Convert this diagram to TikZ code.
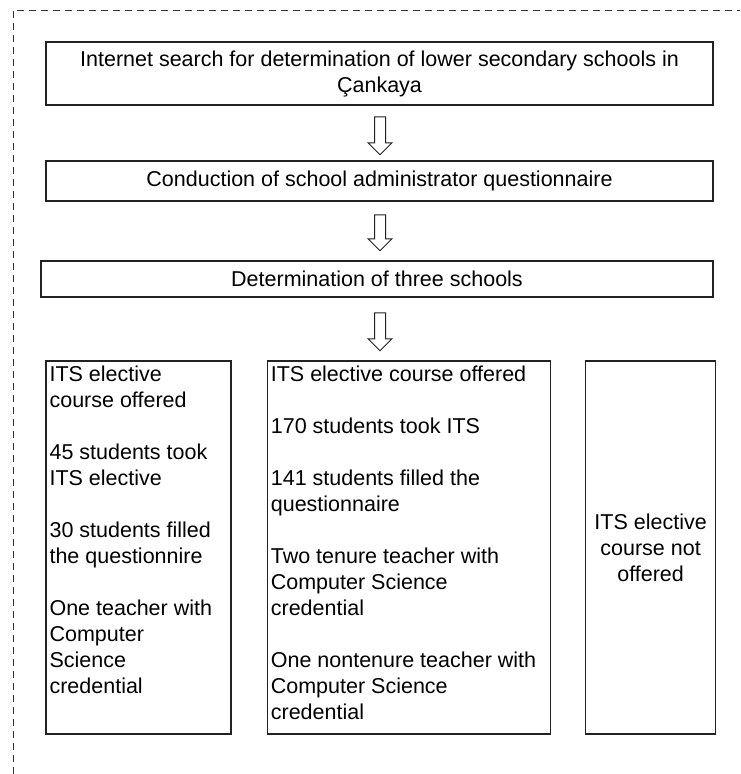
\documentclass[tikz,border=0pt]{standalone}
\usepackage{fontspec}
\setmainfont{Liberation Sans}
\usetikzlibrary{shapes.arrows, positioning}
\definecolor{cLine}{HTML}{222222}
\definecolor{cFrame}{HTML}{333333}

\begin{document}
\begin{tikzpicture}[
  x=1pt, y=-1pt,
  node distance=35pt,
  stepbox/.style={rectangle, draw=cLine, line width=1.3pt, align=center,
                  font=\fontsize{21.5}{26}\selectfont, inner sep=2pt},
  colbox/.style={rectangle, draw=cLine, line width=1.3pt,
                 minimum height=373pt, align=center,
                 font=\fontsize{21.5}{26}\selectfont},
  coltext/.style={anchor=north west, align=left, inner xsep=4pt,
                  inner ysep=5pt, font=\fontsize{21.5}{26}\selectfont},
  downarr/.style={single arrow, draw=cLine, fill=white, line width=1pt,
                  rotate=-90, minimum height=38pt, inner sep=5pt,
                  single arrow head extend=6.5pt},
]
\useasboundingbox (0,0) rectangle (740,774);

\draw[cFrame, line width=1pt, dash pattern=on 7pt off 5pt]
  (13,774) -- (13,10) -- (740,10);

\node[stepbox, minimum width=667pt, minimum height=63pt] (search) at (379.5,73.5)
  {Internet search for determination of lower secondary schools in\\Çankaya};
\node[stepbox, minimum width=667pt, minimum height=40pt] (admin) at (379.5,181)
  {Conduction of school administrator questionnaire};
\node[stepbox, minimum width=672pt, minimum height=36pt] (three) at (377,279)
  {Determination of three schools};

\node[downarr] (arrA) at (380,133) {};
\node[downarr, minimum height=36pt] (arrB) at (380,230) {};
\node[downarr] (arrC) at (380,329) {};

\node[colbox, minimum width=185pt] (schoolA) at (138.5,547.5) {};
\node[colbox, minimum width=283pt, right=of schoolA] (schoolB) {};
\node[colbox, minimum width=130pt, right=34pt of schoolB] (schoolC)
  {ITS elective\\course not\\offered};

\node[coltext] (textA) at (schoolA.north west)
  {ITS elective\\course offered\\[26pt]
   45 students took\\ITS elective\\[26pt]
   30 students filled\\the questionnire\\[26pt]
   One teacher with\\Computer\\Science\\credential};
\node[coltext] (textB) at (schoolB.north west)
  {ITS elective course offered\\[26pt]
   170 students took ITS\\[26pt]
   141 students filled the\\questionnaire\\[26pt]
   Two tenure teacher with\\Computer Science\\credential\\[26pt]
   One nontenure teacher with\\Computer Science\\credential};

\end{tikzpicture}
\end{document}
